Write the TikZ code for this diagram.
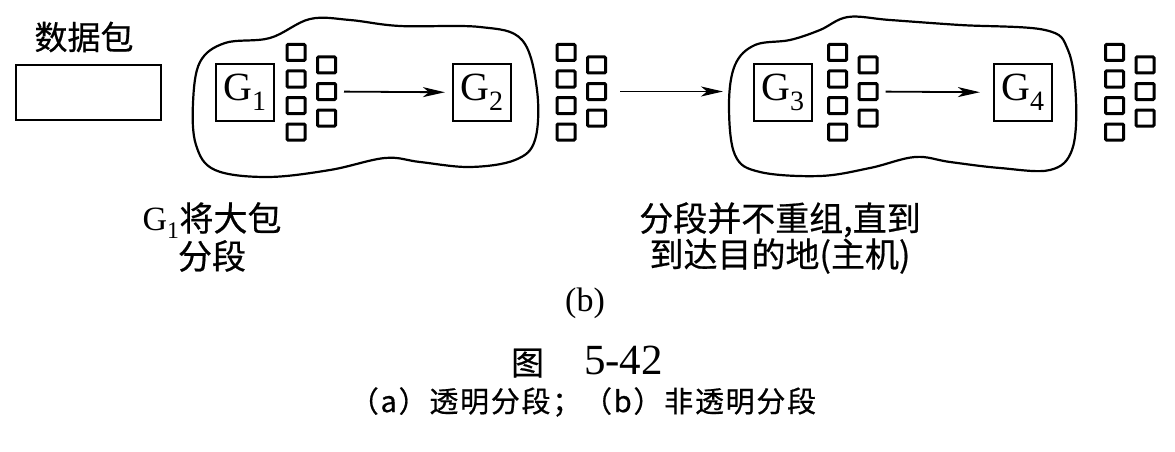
\documentclass[tikz,border=0pt]{standalone}
\usepackage{fontspec}
\setmainfont{Liberation Serif}
\newfontfamily\cjk[FakeBold=0.6]{Noto Sans CJK SC}
\newfontfamily\cjkcap[FakeBold=0.6,LetterSpace=6]{Noto Sans CJK SC}
\usetikzlibrary{arrows.meta}
\tikzset{
  frag/.style={draw,line width=3pt,minimum width=18pt,minimum height=16pt,inner sep=0pt,rounded corners=1pt},
  gw/.style={draw,line width=2.2pt,minimum width=58pt,minimum height=57pt,inner sep=0pt,font=\fontsize{40}{40}\selectfont},
  arw/.style={->,line width=1.8pt},
  cloud/.style={line width=2.2pt}
}
\newcommand*\fragstack[2]{%
  \foreach \k in {0,...,3}
    \node[frag] (#1a\k) at ({#2},{52.5+26.5*\k}) {};
  \foreach \k in {0,...,2}
    \node[frag] (#1b\k) at ({#2+30.5},{65+26.5*\k}) {};}

\begin{document}
\begin{tikzpicture}[x=1pt,y=-1pt,>={Stealth[length=22pt,width=10pt,inset=6pt]}]
			\useasboundingbox (0,0) rectangle (1175,452);
			% the two networks
			\draw[cloud] plot[smooth cycle,tension=0.6] coordinates{(193,103) (200,62) (225,43) (270,38) (310,19) (350,20) (400,26) (480,27) (522,40) (537,90) (535,140) (515,160) (470,167) (420,162) (385,158) (330,170) (267,177) (215,170) (196,145)};
			\draw[cloud] plot[smooth cycle,tension=0.6] coordinates{(729,105) (735,65) (755,45) (790,40) (820,30) (848,17) (890,20) (960,25) (1045,30) (1068,50) (1076,100) (1072,150) (1050,170) (1000,168) (950,162) (915,157) (870,168) (820,176) (760,172) (735,155)};
			% big packet
			\node[font=\cjk\fontsize{33}{33}\selectfont,inner sep=0pt] (pktname) at (84,37) {数据包};
			\node[draw,line width=2.2pt,minimum width=145pt,minimum height=55pt] (pkt) at (88.5,92.5) {};
			% gateways
			\node[gw] (g1) at (245,92.5) {G\textsubscript{1}};
			\node[gw] (g2) at (482,92.5) {G\textsubscript{2}};
			\node[gw] (g3) at (783,92.5) {G\textsubscript{3}};
			\node[gw] (g4) at (1023,92.5) {G\textsubscript{4}};
			% fragments
			\fragstack{s1}{296}
			\fragstack{s2}{566}
			\fragstack{s3}{837.5}
			\fragstack{s4}{1114.5}
			\coordinate (c2in) at (723,91.5);
			\draw[arw,shorten <=7pt,shorten >=7pt] (s1b1) -- (g2);
			\draw[arw,shorten <=13pt] (s2b1) -- (c2in);
			\draw[arw,shorten <=7pt,shorten >=13pt] (s3b1) -- (g4);
			% notes
			\node[align=center,inner sep=0pt,font=\fontsize{34}{38}\selectfont] (note1) at (212,237) {G\textsubscript{1}{\cjk 将大包}\\{\cjk 分段}};
			\node[align=center,inner sep=0pt,font=\cjk\fontsize{34}{36}\selectfont] (note2) at (780,238) {分段并不重组,直到\\到达目的地(主机)};
			\node[inner sep=0pt,font=\fontsize{34}{34}\selectfont] (sub) at (585,303) {(b)};
			\node[inner sep=0pt,font=\fontsize{43}{43}\selectfont] (fig) at (587,362) {{\cjk\fontsize{33}{33}\selectfont 图}\hspace{40pt}5-42};
			\node[inner sep=0pt,font=\cjkcap\fontsize{29}{29}\selectfont] (cap) at (583,402) {（a）透明分段；（b）非透明分段};
		\end{tikzpicture}
\end{document}
